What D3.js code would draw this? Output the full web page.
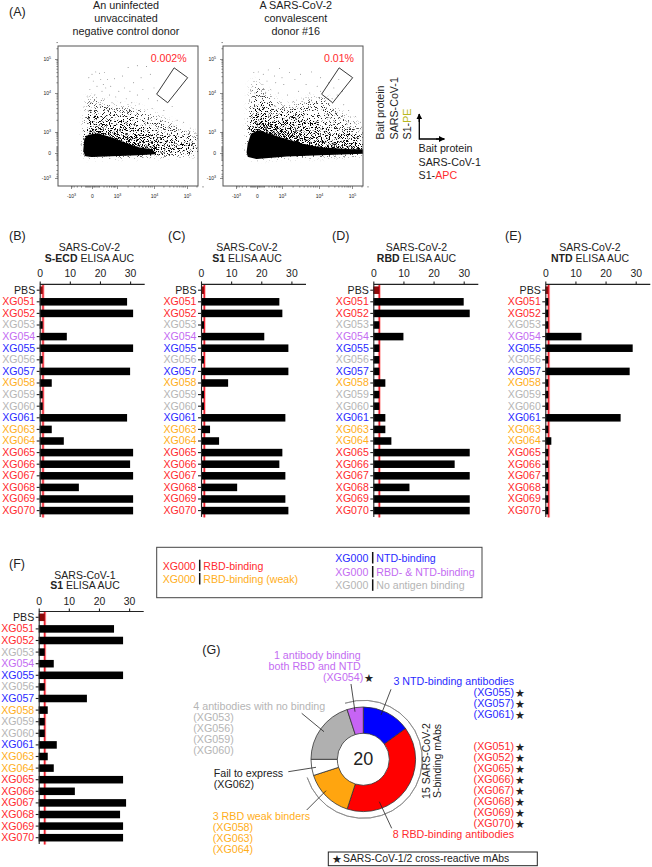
<!DOCTYPE html>
<html>
<head>
<meta charset="utf-8">
<title>SARS-CoV-2 antibody binding</title>
<script src="https://cdn.jsdelivr.net/npm/d3@7"></script>
<style>
  html, body { margin: 0; padding: 0; background: #fff; }
  svg { display: block; }
  text { font-family: "Liberation Sans", Arial, sans-serif; fill: #222; }
  .axis text { font-size: 10.4px; }
  .axis path, .axis line { stroke: #222; stroke-width: 1.1px; }
  .flow path, .flow line { stroke: #444; stroke-width: .6px; }
  .flow text { font-size: 5px; }
</style>
</head>
<body>
<div id="chart"></div>
<script>
var RED = "#ff2a2e", BLUE = "#2a2aff", PURPLE = "#c46cf2", ORANGE = "#ffae1a", GREY = "#b5b5b5";

// ELISA panels
var clones = ["PBS", "XG051", "XG052", "XG053", "XG054", "XG055", "XG056", "XG057", "XG058", "XG059",
  "XG060", "XG061", "XG063", "XG064", "XG065", "XG066", "XG067", "XG068", "XG069", "XG070"];
var cloneGroup = ["ctl", "rbd", "rbd", "none", "both", "ntd", "none", "ntd", "weak", "none",
  "none", "ntd", "weak", "weak", "rbd", "rbd", "rbd", "rbd", "rbd", "rbd"];
var sEcdAuc = [1, 29, 31, 1, 9, 31, 1, 30, 4, 1, 1, 29, 4, 8, 31, 30, 31, 13, 31, 31];
var s1Auc = [1, 26, 27, 1, 21, 29, 1, 29, 9, 1, 1, 28, 3, 6, 27, 26, 28, 12, 28, 29];
var rbdAuc = [2, 30, 32, 2, 10, 2, 2, 2, 4, 2, 2, 4, 4, 6, 32, 27, 32, 12, 32, 32];
var ntdAuc = [1, 1, 1, 1, 12, 29, 1, 28, 1, 1, 1, 25, 1, 2, 1, 1, 1, 1, 1, 1];
var cov1S1Auc = [2, 25, 28, 2, 5, 28, 2, 16, 3, 2, 2, 6, 3, 5, 28, 12, 29, 27, 28, 28];
var aucTicks = [0, 10, 20, 30];

// donut
var donutNames = ["NTD", "RBD", "RBD weak", "Fail", "No binding", "RBD and NTD"];
var donutCounts = [3, 8, 3, 1, 4, 1];
var donutColors = [ "#0000ff", "#ff0000", "#ffa50f", "#ffffff", "#b0b0b0", "#c764f5"];

// flow plots: all values in decades of the biexponential display (0 = zero, 1 = 10^3, 2 = 10^4, 3 = 10^5)
var flowTicks = [-1, 0, 1, 2, 3];
var gate = [[2.61, 2.74], [3.02, 2.45], [2.415, 1.75], [2.08, 1.97]];

// density outlines
var negCore = [[-.38, .11], [-.33, .67], [-.17, .83], [.25, .9], [.79, .7], [1.22, .46], [1.58, .24], [1.94, .14],
  [2.03, -.02], [1.58, -.06], [.79, -.1], [-.02, -.13], [-.3, -.1]];
var negDense = [[-.33, 1.02], [-.17, 1.12], [.25, 1.14], [.79, 1.05], [1.31, .83], [1.76, .51], [2.33, .27], [3, .14],
  [3.33, .11], [3.33, 0], [2.03, -.06], [-.3, -.1]];
var negMid = [[-.3, 1.25], [-.08, 1.42], [.32, 1.33], [.79, 1.22], [1.35, 1.33], [1.71, 1.12], [2.13, .9], [2.74, .75],
  [3.33, .51], [3.33, 0], [2.03, -.06], [-.3, -.1]];
var negSparse = [[-.3, 1.5], [-.17, 1.89], [.25, 1.85], [.92, 1.63], [1.49, 1.63], [2.03, 1.42], [2.84, 1.08], [3.33, .83],
  [3.33, 0], [2.03, -.06], [-.3, -.1]];
var posCore = [[-.46, .03], [-.41, .43], [-.25, .9], [.05, 1.02], [.52, .87], [1.04, .67], [1.49, .43], [2.03, .24], [3, .14],
  [3.33, .14], [3.33, 0], [2.03, -.06], [1.13, -.11], [-.02, -.21], [-.41, -.13]];
var posDense = [[-.33, 1.08], [-.17, 1.33], [.19, 1.38], [.65, 1.21], [1.22, 1.02], [1.76, .75], [2.39, .51], [3.33, .35],
  [3.33, 0], [2.03, -.06], [-.41, -.13]];
var posMid = [[-.3, 1.59], [-.08, 1.8], [.25, 1.63], [.85, 1.38], [1.4, 1.5], [1.85, 1.25], [2.39, .98], [3.33, .67],
  [3.33, 0], [2.03, -.06], [-.41, -.13]];
var posSparse = [[-.3, 1.85], [-.2, 2.36], [.19, 2.17], [.65, 1.81], [1.13, 1.63], [1.62, 1.8], [2.13, 1.93], [2.53, 1.55],
  [2.94, 1.33], [3.33, 1.08], [3.33, 0], [2.03, -.06], [-.41, -.13]];

// single events outside the dense cloud
var negEvents = [[0, 2.55], [.15, 2.62], [.3, 2.58], [.5, 2.6], [.62, 2.4], [.05, 2.35], [.35, 2.4], [.55, 2.15], [.9, 2.42],
  [1.15, 2.5], [1.3, 2.75], [1.55, 2.8], [1.8, 2.78], [1.9, 2.55], [1.65, 2.45], [1.45, 2.3], [1.2, 2.15], [1.05, 2.05],
  [.75, 2.2], [.2, 2.2], [-.1, 2.1], [-.15, 2.45], [.4, 2.05], [1.35, 2.05], [1.7, 2.1], [2, 2.15], [1.55, 1.95], [1.85, 1.85],
  [2.1, 1.8], [2.3, 1.55], [2.55, 1.65], [2.35, 1.35], [2.7, 1.3], [2.9, 1.25], [3.1, 1.1], [3.25, .95], [2.6, 1.15],
  [1.25, 1.85], [.95, 1.9], [.7, 1.95], [.1, 1.95], [-.2, 1.9], [.45, 2.25], [.8, 1.75], [1.1, 1.75], [1.6, 1.72], [1.95, 1.6],
  [2.2, 1.3], [2.45, 1.1], [2.75, 1.05], [3, .9], [3.2, .75], [-.05, 1.75], [.3, 1.7], [.6, 1.62], [-.25, 1.65], [1.4, 1.75]];
var posEvents = [[-.15, 2.6], [.05, 2.62], [.25, 2.55], [.45, 2.68], [.7, 2.5], [.9, 2.72], [1.2, 2.6], [1.5, 2.55], [1.8, 2.62],
  [2.05, 2.45], [.1, 2.4], [.4, 2.35], [.75, 2.3], [1.05, 2.25], [1.35, 2.4], [1.65, 2.25], [1.95, 2.2], [-.2, 2.2], [.55, 2.1],
  [.85, 2], [1.15, 1.95], [1.45, 2.05], [1.75, 2], [2.05, 2.05], [2.3, 2.3], [2.45, 2.15], [2.6, 2.4], [2.7, 2.05], [2.4, 1.85],
  [2.55, 1.95], [2.2, 1.8], [2.75, 1.7], [2.9, 1.55], [3.1, 1.4], [3.25, 1.25], [3.05, 1.05], [.35, 2.02], [-.1, 2], [.95, 1.75],
  [.75, 1.65], [1.3, 1.78], [2.65, 1.35], [2.85, 1.2], [-.28, 2.05], [.2, 2.25], [1.0, 2.45]];

var width = 652, height = 867;
var svg = d3.select("#chart").append("svg").attr("width", width).attr("height", height);
var defs = svg.append("defs");

function label(x, y, str, opts) {
  opts = opts || {};
  return svg.append("text").attr("x", x).attr("y", y)
    .attr("font-size", opts.size || 10.7)
    .attr("text-anchor", opts.anchor || "start")
    .style("fill", opts.color || "#222")
    .text(str);
}

function groupColor(g) {
  return { rbd: RED, weak: ORANGE, ntd: BLUE, both: PURPLE, none: GREY, ctl: "#222" }[g];
}

// grain for the flow cloud: the band outlines set how dark it gets, the noise only breaks it into specks
function stippleFilter(id, seed) {
  var f = defs.append("filter").attr("id", id).attr("filterUnits", "userSpaceOnUse")
    .attr("x", 40).attr("y", 30).attr("width", 340).attr("height", 170)
    .attr("color-interpolation-filters", "sRGB");
  f.append("feGaussianBlur").attr("in", "SourceAlpha").attr("stdDeviation", 3).attr("result", "density");
  f.append("feTurbulence").attr("type", "fractalNoise").attr("baseFrequency", 1.15).attr("numOctaves", 2)
    .attr("seed", seed).attr("result", "turb");
  f.append("feColorMatrix").attr("in", "turb").attr("type", "matrix")
    .attr("values", "0 0 0 0 0  0 0 0 0 0  0 0 0 0 0  3 0 0 0 -1").attr("result", "grain");
  f.append("feComposite").attr("in", "density").attr("in2", "grain").attr("operator", "arithmetic")
    .attr("k1", 0).attr("k2", 1).attr("k3", 1).attr("k4", -1).attr("result", "sum");
  var ct = f.append("feComponentTransfer").attr("in", "sum").attr("result", "specks");
  ct.append("feFuncA").attr("type", "linear").attr("slope", 3.5).attr("intercept", 0);
  f.append("feFlood").attr("flood-color", "#000").attr("result", "ink");
  f.append("feComposite").attr("in", "ink").attr("in2", "specks").attr("operator", "in");
}
stippleFilter("grainNeg", 4);
stippleFilter("grainPos", 11);

function flowPlot(dx, bands, events, pct, pctX, clipId, grainId) {
  var x = d3.scaleLinear().domain([-1.62, -1, 0, 1, 2, 3, 3.33]).range([58 + dx, 71 + dx, 92 + dx, 117 + dx, 154 + dx, 187 + dx, 198 + dx]);
  var y = d3.scaleLinear().domain([-1.57, -1, 0, 1, 2, 3, 3.38]).range([186, 178, 153, 132, 93, 59, 46]);
  var outline = d3.line().x(function (d) { return x(d[0]); }).y(function (d) { return y(d[1]); });

  defs.append("clipPath").attr("id", clipId).append("rect")
    .attr("x", 58 + dx).attr("y", 46).attr("width", 140).attr("height", 140);
  var g = svg.append("g").attr("clip-path", "url(#" + clipId + ")");

  var cloud = g.append("g").attr("filter", "url(#" + grainId + ")");
  [.24, .2, .34].forEach(function (a, i) {
    cloud.append("path").attr("d", outline(bands[i]) + "Z").attr("fill", "#000").attr("fill-opacity", a);
  });
  g.append("path").attr("d", outline(bands[3]) + "Z").attr("fill", "#000")
    .attr("stroke", "#000").attr("stroke-width", 1.5).attr("stroke-linejoin", "round")
    .style("filter", "blur(.5px)");

  g.selectAll("circle").data(events).enter().append("circle")
    .attr("cx", function (d) { return x(d[0]); })
    .attr("cy", function (d) { return y(d[1]); })
    .attr("r", .45).attr("fill", "#444");

  svg.append("path").attr("d", outline(gate) + "Z")
    .attr("fill", "none").attr("stroke", "#222").attr("stroke-width", .9);
  svg.append("rect").attr("x", 58 + dx).attr("y", 46).attr("width", 140).attr("height", 140)
    .attr("fill", "none").attr("stroke", "#555").attr("stroke-width", 1);

  // major plus minor ticks, the zero region is packed like the cytometer software does it
  var minor = [];
  [0, 1, 2].forEach(function (d) {
    [.3, .48, .6, .7, .78, .85, .9, .95].forEach(function (f) { minor.push(d + f); });
  });
  [-.95, -.85, -.7, -.5, -.3, -.25, -.2, -.15, -.1, -.05, .05, .1, .15, .2, .25].forEach(function (f) { minor.push(f); });
  [3.3, 3.48].forEach(function (f) { minor.push(f); });

  var fmt = function (d) { return d === 0 ? "0" : (d < 0 ? "-10" : "10"); };
  var sup = function (d) { return d === 0 ? "" : String(Math.abs(d) + 2); };
  function addSup(sel) {
    sel.selectAll(".tick text").each(function (d) {
      if (d !== 0) d3.select(this).append("tspan").attr("dy", -2).attr("font-size", 3.6).text(sup(d));
    });
  }

  var ax = svg.append("g").attr("class", "flow").attr("transform", "translate(0,186)")
    .call(d3.axisBottom(x).tickValues(flowTicks).tickFormat(fmt).tickSize(3).tickPadding(5));
  addSup(ax);
  ax.select(".domain").remove();
  ax.selectAll(".minor").data(minor).enter().append("line").attr("class", "minor")
    .attr("x1", x).attr("x2", x).attr("y1", 0).attr("y2", 1.6);

  var ay = svg.append("g").attr("class", "flow").attr("transform", "translate(" + (58 + dx) + ",0)")
    .call(d3.axisLeft(y).tickValues(flowTicks).tickFormat(fmt).tickSize(3).tickPadding(4));
  addSup(ay);
  ay.select(".domain").remove();
  ay.selectAll(".minor").data(minor).enter().append("line").attr("class", "minor")
    .attr("y1", y).attr("y2", y).attr("x1", 0).attr("x2", -1.6);

  label(pctX, 62, pct, { color: RED, size: 10.6 });
}

flowPlot(0, [negSparse, negMid, negDense, negCore], negEvents, "0.002%", 150.7, "clipNeg", "grainNeg");
flowPlot(165, [posSparse, posMid, posDense, posCore], posEvents, "0.01%", 324, "clipPos", "grainPos");

label(9, 16, "(A)", { size: 12.5 });
["An uninfected", "unvaccinated", "negative control donor"].forEach(function (s, i) {
  label(126, 9 + i * 13, s, { anchor: "middle", size: 10.8 });
});
["A SARS-CoV-2", "convalescent", "donor #16"].forEach(function (s, i) {
  label(295.7, 9 + i * 13, s, { anchor: "middle", size: 10.8 });
});

// bait axes key
defs.append("marker").attr("id", "head").attr("viewBox", "0 0 10 10").attr("refX", 9).attr("refY", 5)
  .attr("markerWidth", 4.6).attr("markerHeight", 4.6).attr("orient", "auto")
  .append("path").attr("d", "M0,0L10,5L0,10Z").attr("fill", "#000");
svg.append("path").attr("d", "M419.3,114V139H444.3").attr("fill", "none").attr("stroke", "#000").attr("stroke-width", 1.3);
svg.append("path").attr("d", "M419.3,122V114").attr("stroke", "#000").attr("stroke-width", 1.3).attr("marker-end", "url(#head)");
svg.append("path").attr("d", "M436,139H444.3").attr("stroke", "#000").attr("stroke-width", 1.3).attr("marker-end", "url(#head)");
[["Bait protein", 384.3], ["SARS-CoV-1", 397.7]].forEach(function (p) {
  svg.append("text").attr("transform", "translate(" + p[1] + ",139.5) rotate(-90)").attr("font-size", 10.7).text(p[0]);
});
var pe = svg.append("text").attr("transform", "translate(410.7,139.5) rotate(-90)").attr("font-size", 10.7);
pe.append("tspan").text("S1-");
pe.append("tspan").style("fill", "#b9b820").text("PE");
label(418.5, 152, "Bait protein");
label(418.5, 165.7, "SARS-CoV-1");
var apc = label(418.5, 179, "S1-");
apc.append("tspan").style("fill", RED).text("APC");

// bar panel
function barPanel(opts) {
  var x = d3.scaleLinear().domain([0, 30]).range([opts.x0, opts.x0 + 90.4]);
  var y = d3.scaleBand().domain(clones).range([opts.top, opts.top + 232]).paddingInner(.35).paddingOuter(.175);
  var g = svg.append("g");

  g.append("line").attr("x1", x(opts.cut)).attr("x2", x(opts.cut)).attr("y1", opts.top).attr("y2", opts.top + 233)
    .attr("stroke", "#ffb3b3").attr("stroke-width", 3);
  g.append("line").attr("x1", x(opts.cut)).attr("x2", x(opts.cut)).attr("y1", opts.top).attr("y2", opts.top + 233)
    .attr("stroke", "#ee2030").attr("stroke-width", 1.4);

  g.selectAll("rect").data(opts.values).enter().append("rect")
    .attr("x", x(0))
    .attr("y", function (d, i) { return y(clones[i]); })
    .attr("width", function (d) { return x(d) - x(0); })
    .attr("height", y.bandwidth())
    .attr("fill", function (d, i) { return i === 0 ? "#8c0a0a" : "#000"; });

  var top = g.append("g").attr("class", "axis").attr("transform", "translate(0," + opts.top + ")")
    .call(d3.axisTop(x).tickValues(aucTicks).tickSize(3).tickSizeOuter(0).tickPadding(4));
  top.select(".domain").attr("d", "M" + x(0) + ",0H" + (x(0) + 105));

  var left = g.append("g").attr("class", "axis").attr("transform", "translate(" + x(0) + ",0)")
    .call(d3.axisLeft(y).tickSize(3).tickSizeOuter(0).tickPadding(1.5));
  left.selectAll(".tick text")
    .style("fill", function (d, i) { return groupColor(cloneGroup[i]); })
    .style("font-size", "10.6px");

  label(opts.letterX, opts.top - 44, opts.letter, { size: 12.5 });
  label(opts.titleX, opts.top - 33, opts.virus, { anchor: "middle", size: 10.5 });
  var t = label(opts.titleX, opts.top - 22.5, "", { anchor: "middle", size: 10.5 });
  t.append("tspan").attr("font-weight", "bold").text(opts.antigen);
  t.append("tspan").text(" ELISA AUC");
}

barPanel({ x0: 39.7, top: 284.4, values: sEcdAuc, cut: 1.1, letter: "(B)", letterX: 9, titleX: 89.5, virus: "SARS-CoV-2", antigen: "S-ECD" });
barPanel({ x0: 201, top: 284.4, values: s1Auc, cut: 1.1, letter: "(C)", letterX: 168, titleX: 247, virus: "SARS-CoV-2", antigen: "S1" });
barPanel({ x0: 373.3, top: 284.4, values: rbdAuc, cut: 2, letter: "(D)", letterX: 332, titleX: 416.5, virus: "SARS-CoV-2", antigen: "RBD" });
barPanel({ x0: 545.3, top: 284.4, values: ntdAuc, cut: 1.1, letter: "(E)", letterX: 505, titleX: 590, virus: "SARS-CoV-2", antigen: "NTD" });
barPanel({ x0: 38.7, top: 611.5, values: cov1S1Auc, cut: 2, letter: "(F)", letterX: 9, titleX: 85, virus: "SARS-CoV-1", antigen: "S1" });

// legend box
svg.append("rect").attr("x", 156.7).attr("y", 547.3).attr("width", 325.3).attr("height", 50.4)
  .attr("fill", "none").attr("stroke", "#444").attr("stroke-width", 1);
[[162.7, 199.7, 203.3, 569.7, "RBD-binding", RED], [162.7, 199.7, 203.3, 583, "RBD-binding (weak)", ORANGE],
 [335.3, 372.7, 376.3, 562, "NTD-binding", BLUE], [335.3, 372.7, 376.3, 576, "RBD- & NTD-binding", PURPLE],
 [335.3, 372.7, 376.3, 589.3, "No antigen binding", GREY]].forEach(function (r) {
  label(r[0], r[3], "XG000", { color: r[5], size: 10.6 });
  svg.append("line").attr("x1", r[1]).attr("x2", r[1]).attr("y1", r[3] - 10).attr("y2", r[3] + 1.5)
    .attr("stroke", "#111").attr("stroke-width", 1.5);
  label(r[2], r[3], r[4], { color: r[5], size: 10.6 });
});

// (G) donut
var cx = 363.3, cy = 759.3;
var pie = d3.pie().sort(null).value(function (d) { return d; });
var arc = d3.arc().innerRadius(26).outerRadius(52.3);
var donut = svg.append("g").attr("transform", "translate(" + cx + "," + cy + ")");
donut.selectAll("path").data(pie(donutCounts)).enter().append("path")
  .attr("d", arc)
  .attr("fill", function (d, i) { return donutColors[i]; })
  .attr("stroke", "#333").attr("stroke-width", .8)
  .append("title").text(function (d, i) { return donutNames[i]; });
donut.append("path")
  .attr("d", d3.arc().innerRadius(59).outerRadius(59)({ startAngle: -.1 * Math.PI, endAngle: 1.4 * Math.PI }))
  .attr("fill", "none").attr("stroke", "#888").attr("stroke-width", .8);
label(cx, 765.3, "20", { anchor: "middle", size: 18 });

label(202.3, 654, "(G)", { size: 12.5 });
label(360.7, 659, "1 antibody binding", { anchor: "end", color: PURPLE });
label(360.7, 670, "both RBD and NTD", { anchor: "end", color: PURPLE });
label(363.3, 681, "(XG054)", { anchor: "end", color: PURPLE });
label(363.5, 682, "★", { size: 10.5 });

label(514, 685, "3 NTD-binding antibodies", { anchor: "end", color: BLUE });
["(XG055)", "(XG057)", "(XG061)"].forEach(function (s, i) {
  label(514, 696 + i * 11, s, { anchor: "end", color: BLUE });
  label(514.5, 697 + i * 11, "★", { size: 10.5 });
});
["(XG051)", "(XG052)", "(XG065)", "(XG066)", "(XG067)", "(XG068)", "(XG069)", "(XG070)"].forEach(function (s, i) {
  label(514, 750 + i * 10.95, s, { anchor: "end", color: RED });
  label(514.5, 751 + i * 10.95, "★", { size: 10.5 });
});
label(514, 837.7, "8 RBD-binding antibodies", { anchor: "end", color: RED });

label(193.3, 710, "4 antibodies with no binding", { color: GREY });
["(XG053)", "(XG056)", "(XG059)", "(XG060)"].forEach(function (s, i) {
  label(193.3, 721 + i * 11, s, { color: GREY });
});
label(213.7, 776.7, "Fail to express");
label(213.7, 787.7, "(XG062)");
label(212.7, 820.3, "3 RBD weak binders", { color: ORANGE });
["(XG058)", "(XG063)", "(XG064)"].forEach(function (s, i) {
  label(212.7, 831 + i * 11, s, { color: ORANGE });
});

[["15 SARS-CoV-2", 430], ["S-binding mAbs", 440.7]].forEach(function (p) {
  svg.append("text").attr("transform", "translate(" + p[1] + ",761) rotate(-90)")
    .attr("text-anchor", "middle").attr("font-size", 10.5).text(p[0]);
});

// leader lines
[[351, 684, 355, 711.7], [391, 689.3, 381, 715], [301.7, 713.3, 324, 731.7], [288.3, 771.7, 316, 767.3],
 [306.7, 810, 326, 790.7], [391.7, 828.3, 379.3, 801.7]].forEach(function (l) {
  svg.append("line").attr("x1", l[0]).attr("y1", l[1]).attr("x2", l[2]).attr("y2", l[3])
    .attr("stroke", "#222").attr("stroke-width", .8);
});

// footnote
svg.append("rect").attr("x", 328.3).attr("y", 852).attr("width", 209).attr("height", 13.7)
  .attr("fill", "none").attr("stroke", "#222").attr("stroke-width", 1);
label(332, 862.7, "★", { size: 10.5 });
label(343, 862.3, "SARS-CoV-1/2 cross-reactive mAbs", { size: 10.4 });
</script>
</body>
</html>
